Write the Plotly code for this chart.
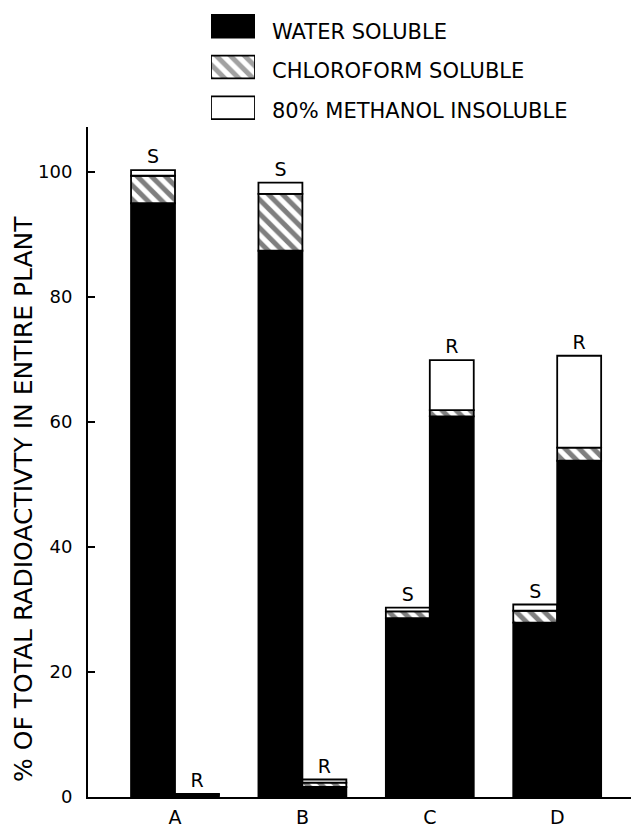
import numpy as np
import plotly.graph_objects as go

# ---------------- data ----------------
categories = ["A", "B", "C", "D"]
group_labels = ["S", "R"]
series_names = ["WATER SOLUBLE", "CHLOROFORM SOLUBLE", "80% METHANOL INSOLUBLE"]

water_S = [95.0, 87.4, 28.6, 27.9]
chloro_S = [4.4, 9.1, 1.1, 1.9]
meth_S = [0.9, 1.8, 0.6, 1.0]

water_R = [0.4, 1.6, 60.9, 53.8]
chloro_R = [0.0, 0.7, 1.0, 2.1]
meth_R = [0.1, 0.5, 8.0, 14.7]

y_ticks = [0, 20, 40, 60, 80, 100]
y_title = "% OF TOTAL RADIOACTIVTY IN ENTIRE PLANT"

# ---------------- style ----------------
FONT = "DejaVu Sans"
OFF = 8                      # page body margin of the html page
W, H = 639, 827
ML, MR, MT, MB = 88 - OFF, 0, 0, 827 - (797 - OFF)
PW = W - ML - MR
PH = H - MT - MB
BAR_W = 0.345
LINE_W = 1.8
HATCH = dict(shape="\\", fgcolor="black", bgcolor="white", size=10, solidity=0.5)

CAT_PITCH = 127.4            # px per category
A_CENTER = 175 - OFF         # px of first category centre inside figure
X_RANGE = [-(A_CENTER - ML) / CAT_PITCH, (W - A_CENTER) / CAT_PITCH]


def px_x(p):
    return (p - OFF - ML) / PW


def px_y(p):
    return (H - MB - (p - OFF)) / PH


fig = go.Figure()

groups = [
    ("S", -BAR_W, water_S, chloro_S, meth_S),
    ("R", 0.0, water_R, chloro_R, meth_R),
]
for lab, off, w, c, m in groups:
    w = np.array(w)
    c = np.array(c)
    m = np.array(m)
    fig.add_trace(go.Bar(
        x=categories, y=w, base=np.zeros_like(w), offset=off, width=BAR_W,
        marker=dict(color="black", line=dict(color="black", width=LINE_W)),
        name=series_names[0], showlegend=False, cliponaxis=False,
    ))
    fig.add_trace(go.Bar(
        x=categories, y=c, base=w, offset=off, width=BAR_W,
        marker=dict(color="white", pattern=HATCH, line=dict(color="black", width=LINE_W)),
        name=series_names[1], showlegend=False, cliponaxis=False,
    ))
    fig.add_trace(go.Bar(
        x=categories, y=m, base=w + c, offset=off, width=BAR_W,
        marker=dict(color="white", line=dict(color="black", width=LINE_W)),
        name=series_names[2], showlegend=False, cliponaxis=False,
        text=[lab] * len(categories), textposition="outside", constraintext="none",
        textfont=dict(family=FONT, size=19, color="black"),
    ))

# ---------------- legend swatches (inset axes) ----------------
ROW_PITCH, ROW0 = 40.7, 26.3
leg_top, leg_bot = 8, 128
fig.add_trace(go.Bar(
    x=[1, 1, 1], y=[0, 1, 2], base=[0, 0, 0], orientation="h", width=0.56,
    marker=dict(color=["black", "white", "white"],
                pattern=dict(shape=["", "\\", ""], fgcolor="black", bgcolor="white",
                             size=10, solidity=0.5),
                line=dict(color="black", width=LINE_W)),
    xaxis="x2", yaxis="y2", showlegend=False, cliponaxis=False, hoverinfo="skip",
))
for name, p in zip(series_names, [32, 71, 111]):
    fig.add_annotation(
        x=px_x(270), y=px_y(p), xref="paper", yref="paper",
        text=name, showarrow=False, xanchor="left", yanchor="middle",
        font=dict(family=FONT, size=21, color="black"),
    )

fig.add_annotation(
    x=px_x(24), y=px_y(499), xref="paper", yref="paper",
    text=y_title, showarrow=False, textangle=-90,
    xanchor="center", yanchor="middle",
    font=dict(family=FONT, size=25, color="black"),
)

fig.update_layout(
    width=W, height=H, autosize=False,
    margin=dict(l=ML, r=MR, t=MT, b=MB, autoexpand=False),
    paper_bgcolor="white", plot_bgcolor="white",
    barmode="overlay",
    font=dict(family=FONT, color="black"),
    xaxis=dict(
        domain=[0, 1], type="category", categoryorder="array", categoryarray=categories,
        range=X_RANGE, showline=True, linecolor="black", linewidth=2,
        ticks="", showgrid=False, zeroline=False, ticklabelstandoff=2,
        automargin=False,
        tickfont=dict(family=FONT, size=19, color="black"),
    ),
    yaxis=dict(
        domain=[0, px_y(127)], range=[0, 107.2], tickvals=y_ticks,
        showline=True, linecolor="black", linewidth=2,
        ticks="inside", ticklen=7, tickwidth=2, tickcolor="black",
        showgrid=False, zeroline=False, ticklabelstandoff=10,
        automargin=False,
        tickfont=dict(family=FONT, size=18, color="black"),
    ),
    xaxis2=dict(domain=[px_x(211), px_x(255)], range=[0, 1], visible=False, anchor="y2"),
    yaxis2=dict(domain=[px_y(leg_bot), min(1.0, px_y(leg_top))],
                range=[(leg_bot - ROW0) / ROW_PITCH, (leg_top - ROW0) / ROW_PITCH],
                visible=False, anchor="x2"),
)

fig.write_html("out.html")
